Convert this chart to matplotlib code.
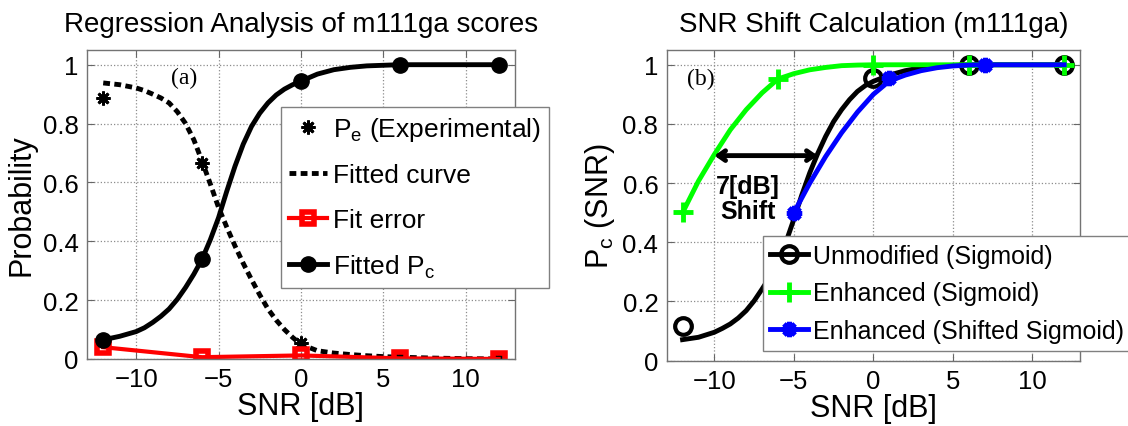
import matplotlib
matplotlib.use("Agg")
import matplotlib.pyplot as plt
from matplotlib.ticker import FormatStrFormatter

plt.rcParams['font.family'] = ['Liberation Sans', 'DejaVu Sans']
plt.rcParams['mathtext.fontset'] = 'custom'
plt.rcParams['mathtext.rm'] = 'Liberation Sans'

# measured points
snr = [-12, -6, 0, 6, 12]
pe_exp = [0.887, 0.665, 0.055, 0.004, 0.0]
fit_err = [0.04, 0.006, 0.012, 0.002, 0.0]
pc_fit = [0.065, 0.339, 0.944, 1.0, 1.0]

# fitted curves (finer steps where they are steep)
curve_snr = [-12, -11, -10, -9.5, -9, -8.5, -8, -7.5, -7, -6.5, -6, -5.5, -5,
             -4.5, -4, -3.5, -3, -2.5, -2, -1.5, -1, -0.5, 0, 1, 2, 3, 4, 5,
             6, 8, 10, 12]
pc_curve = [0.065, 0.077, 0.093, 0.106, 0.124, 0.145, 0.17, 0.203, 0.243,
            0.288, 0.339, 0.405, 0.48, 0.57, 0.655, 0.73, 0.79, 0.835, 0.87,
            0.897, 0.917, 0.932, 0.944, 0.968, 0.983, 0.991, 0.996, 0.998,
            1.0, 1.0, 1.0, 1.0]
pe_curve = [0.938, 0.932, 0.921, 0.912, 0.9, 0.887, 0.87, 0.84, 0.80, 0.745,
            0.672, 0.595, 0.515, 0.448, 0.384, 0.325, 0.27, 0.218, 0.17, 0.132,
            0.10, 0.073, 0.05, 0.028, 0.02, 0.015, 0.011, 0.008, 0.006, 0.003,
            0.001, 0.0]

# panel (b)
unmod_pts = [0.118, 0.34, 0.955, 1.0, 1.0]
enh_pts = [0.503, 0.952, 1.0, 1.0, 1.0]
shift_snr = [-5, 1, 7]
shift_pts = [0.5, 0.955, 1.0]

unmod_curve = [0.071, 0.079, 0.096, 0.109, 0.124, 0.144, 0.169, 0.202, 0.242,
               0.284, 0.33, 0.4, 0.478, 0.56, 0.635, 0.7, 0.758, 0.808, 0.848,
               0.882, 0.91, 0.93, 0.944, 0.965, 0.98, 0.99, 0.995, 0.998,
               1.0, 1.0, 1.0, 1.0]
enh_snr = [-12, -11, -10, -9, -8, -7, -6, -5, -4, -3, -2, -1, 0, 3, 6, 9, 12]
enh_curve = [0.5, 0.607, 0.697, 0.78, 0.848, 0.905, 0.952, 0.97, 0.983, 0.991,
             0.997, 0.999, 1.0, 1.0, 1.0, 1.0, 1.0]
shift_curve_snr = [-5, -4, -3, -2, -1, 0, 1, 2, 3, 4, 5, 6, 7, 9, 12]
shift_curve = [0.5, 0.6, 0.69, 0.77, 0.84, 0.9, 0.945, 0.965, 0.98, 0.99,
               0.996, 0.999, 1.0, 1.0, 1.0]

AST = (8, 2, 0)  # matlab-like asterisk

fig = plt.figure(figsize=(11.28, 4.27), dpi=100)
ax1 = fig.add_axes([0.0769, 0.157, 0.3797, 0.7236])
ax2 = fig.add_axes([0.591, 0.153, 0.3665, 0.7276])


def style_axes(ax):
    ax.set_xlim(-13, 13)
    ax.set_ylim(0, 1.05)
    ax.set_xticks([-10, -5, 0, 5, 10])
    ax.set_yticks([0, 0.2, 0.4, 0.6, 0.8, 1.0])
    ax.yaxis.set_major_formatter(FormatStrFormatter('%g'))
    ax.grid(True, linestyle=':', color='0.55', linewidth=0.9)
    ax.tick_params(direction='in', length=5, labelsize=18.5, pad=6,
                   color='0.4', top=True, right=True)
    for s in ax.spines.values():
        s.set_color('0.45')
        s.set_linewidth(1.0)
    ax.set_xlabel('SNR [dB]', fontsize=22, labelpad=0)


# (a)
style_axes(ax1)
ax1.plot(snr, pe_exp, linestyle='none', marker=AST, color='k', ms=10, mew=2,
         label=r'$\mathregular{P_e}$ (Experimental)')
ax1.plot(curve_snr, pe_curve, color='k', lw=3.5, dashes=(1.4, 0.9),
         label='Fitted curve')
ax1.plot(snr, fit_err, color='#ff0000', lw=3, marker='s', ms=8, mew=4,
         mfc='none', label='Fit error')
ax1.plot(curve_snr, pc_curve, color='k', lw=3.5)
ax1.plot(snr, pc_fit, color='k', lw=3.5, marker='o', ms=11, linestyle='none')
ax1.plot([], [], color='k', lw=3.5, marker='o', ms=11,
         label=r'Fitted $\mathregular{P_c}$')
ax1.text(-7.07, 0.955, '(a)', family='Liberation Serif', fontsize=17,
         ha='center', va='center')
ax1.set_title('Regression Analysis of m111ga scores', fontsize=20, pad=14)
ax1.set_ylabel('Probability', fontsize=22, labelpad=4)
leg1 = ax1.legend(loc='upper left', bbox_to_anchor=(0.4537, 0.8155),
                  fontsize=19, handlelength=1.45, handletextpad=0.2,
                  borderpad=0.3, labelspacing=0.78, fancybox=False,
                  framealpha=1, edgecolor='0.5', borderaxespad=0)
leg1.get_frame().set_linewidth(1.0)

# (b)
style_axes(ax2)
ax2.plot(curve_snr, unmod_curve, color='k', lw=3.5)
ax2.plot(snr, unmod_pts, color='k', linestyle='none', marker='o', ms=12,
         mew=3, mfc='none')
ax2.plot(enh_snr, enh_curve, color='#00ff00', lw=3.5)
ax2.plot(snr, enh_pts, color='#00ff00', linestyle='none', marker='+', ms=14,
         mew=3.5)
ax2.plot(shift_curve_snr, shift_curve, color='#0000ff', lw=3.5)
ax2.plot(shift_snr, shift_pts, color='#0000ff', linestyle='none', marker=AST,
         ms=11, mew=3.5)
ax2.plot([], [], color='k', lw=3.5, marker='o', ms=12, mew=3, mfc='none',
         label='Unmodified (Sigmoid)')
ax2.plot([], [], color='#00ff00', lw=3.5, marker='+', ms=14, mew=3.5,
         label='Enhanced (Sigmoid)')
ax2.plot([], [], color='#0000ff', lw=3.5, marker=AST, ms=11, mew=3.5,
         label='Enhanced (Shifted Sigmoid)')
ax2.annotate('', xy=(-3.5, 0.693), xytext=(-10, 0.693),
             arrowprops=dict(arrowstyle='<->,head_length=0.5,head_width=0.35',
                             color='k', lw=3.5, shrinkA=0, shrinkB=0))
ax2.text(-7.9, 0.548, '7[dB]\nShift', fontsize=18, fontweight='bold',
         ha='center', va='center', linespacing=1.1)
ax2.text(-10.84, 0.955, '(b)', family='Liberation Serif', fontsize=17,
         ha='center', va='center')
ax2.set_title('SNR Shift Calculation (m111ga)', fontsize=20, pad=14)
ax2.set_ylabel(r'$\mathregular{P_c}$ (SNR)', fontsize=22, labelpad=4)
leg2 = ax2.legend(loc='lower left', bbox_to_anchor=(0.232, 0.032),
                  fontsize=18, handlelength=1.5, handletextpad=0.2,
                  borderpad=0.3, labelspacing=0.55, fancybox=False,
                  framealpha=1, edgecolor='0.5', borderaxespad=0)
leg2.get_frame().set_linewidth(1.0)

fig.savefig('out.png', dpi=100)
